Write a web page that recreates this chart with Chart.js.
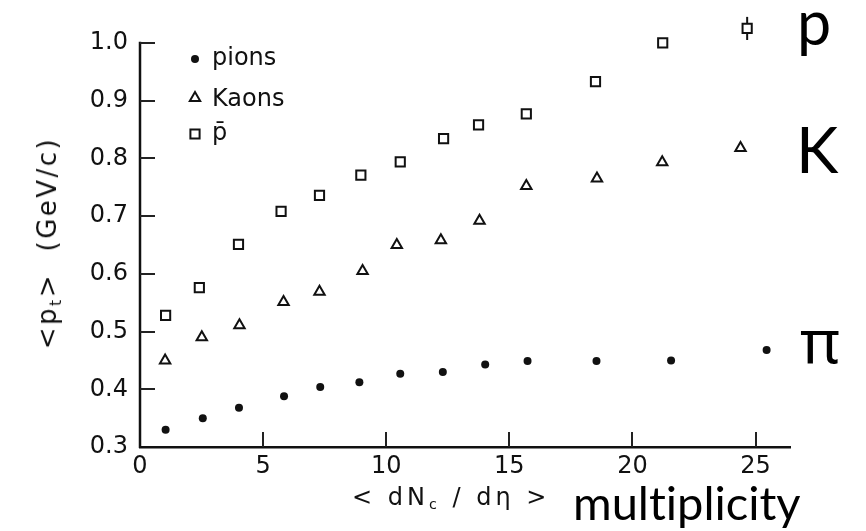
<!DOCTYPE html>
<html>
<head>
<meta charset="utf-8">
<script src="https://cdn.jsdelivr.net/npm/chart.js@4.4.1/dist/chart.umd.min.js"></script>
<style>
  html, body { margin:0; padding:0; background:#fff; }
  #wrap { position:relative; width:866px; height:531px; overflow:hidden; background:#fff; }
  #chart { position:absolute; left:0; top:0; }
  .lbl { position:absolute; white-space:nowrap; line-height:1; font-variant-ligatures:none; font-feature-settings:"liga" 0; }
  .scan { font-family:"DejaVu Sans", sans-serif; color:#111; }
  .plain { font-family:Lato, "Noto Sans", sans-serif; color:#000; }
  sub { font-size:60%; vertical-align:-0.3em; line-height:0; }
</style>
</head>
<body>
<div id="wrap">
  <canvas id="chart" width="866" height="531"></canvas>
  <div class="lbl scan" style="left:352px; top:485px; font-size:24px; letter-spacing:4px;">&lt; dN<sub>c</sub> / dη &gt;</div>
  <div class="lbl plain" style="left:573px; top:479px; font-size:47px;">multiplicity</div>
  <div style="position:absolute; left:47px; top:243px; width:0; height:0;">
    <div class="lbl scan" style="left:0; top:0; font-size:26px; letter-spacing:2.5px; transform:translate(-50%,-50%) rotate(-90deg);">&lt;p<sub>t</sub>&gt;&nbsp;&nbsp;(GeV/c)</div>
  </div>
  <div class="lbl plain" style="left:797px; top:-9px; font-size:61px;">p</div>
  <div class="lbl plain" style="left:796px; top:117px; font-size:64px;">K</div>
  <div class="lbl" style="left:800px; top:309px; font-size:61px; font-family:'Noto Sans', sans-serif; color:#000;">π</div>
</div>
<script>
// Mean transverse momentum vs charged multiplicity
const multPions = [1.04, 2.55, 4.02, 5.85, 7.32, 8.91, 10.57, 12.30, 14.02, 15.74, 18.54, 21.57, 25.45];
const ptPions   = [0.330, 0.350, 0.368, 0.388, 0.404, 0.412, 0.427, 0.430, 0.443, 0.449, 0.449, 0.450, 0.468];

const multKaons = [1.02, 2.51, 4.04, 5.83, 7.29, 9.04, 10.43, 12.22, 13.79, 15.69, 18.56, 21.21, 24.39];
const ptKaons   = [0.450, 0.490, 0.511, 0.551, 0.569, 0.605, 0.650, 0.658, 0.692, 0.752, 0.765, 0.793, 0.818];

const multPbar  = [1.04, 2.41, 4.00, 5.73, 7.29, 8.97, 10.57, 12.33, 13.75, 15.69, 18.50, 21.23, 24.66];
const ptPbar    = [0.528, 0.576, 0.651, 0.708, 0.736, 0.771, 0.794, 0.834, 0.858, 0.877, 0.933, 1.000, 1.025];
const errPbar   = [0, 0, 0, 0, 0, 0, 0, 0, 0, 0, 0, 0, 0.02];

const seriesNames = ['pions', 'Kaons', 'p\u0304'];
const xTicks = [0, 5, 10, 15, 20, 25];
const yTicks = [0.3, 0.4, 0.5, 0.6, 0.7, 0.8, 0.9, 1.0];

const ink = '#111';
const scanFont = { family: 'DejaVu Sans', size: 24 };

function points(xs, ys) { return xs.map((x, i) => ({ x: x, y: ys[i] })); }

// vertical error bars on the antiproton points
const errorBars = {
  id: 'errorBars',
  beforeDatasetsDraw(chart) {
    const xs = chart.scales.x, ys = chart.scales.y, ctx = chart.ctx;
    ctx.save();
    ctx.strokeStyle = ink;
    ctx.lineWidth = 2;
    errPbar.forEach((e, i) => {
      if (!e) return;
      const x = xs.getPixelForValue(multPbar[i]);
      ctx.beginPath();
      ctx.moveTo(x, ys.getPixelForValue(ptPbar[i] - e));
      ctx.lineTo(x, ys.getPixelForValue(ptPbar[i] + e));
      ctx.stroke();
    });
    ctx.restore();
  }
};

// y axis line up to the last labelled tick, plus tick marks pointing into the plot
const innerTicks = {
  id: 'innerTicks',
  afterDraw(chart) {
    const xs = chart.scales.x, ys = chart.scales.y, ctx = chart.ctx, a = chart.chartArea;
    ctx.save();
    ctx.strokeStyle = ink;
    ctx.lineWidth = 2.5;
    ctx.beginPath();
    ctx.moveTo(a.left, ys.getPixelForValue(yTicks[0]) + 1);
    ctx.lineTo(a.left, ys.getPixelForValue(yTicks[yTicks.length - 1]) - 1);
    ctx.stroke();

    ctx.strokeStyle = '#222';
    ctx.lineWidth = 2;
    ctx.beginPath();
    ys.ticks.forEach(t => {
      if (t.value === yTicks[0]) return;
      const y = Math.round(ys.getPixelForValue(t.value));
      ctx.moveTo(a.left, y);
      ctx.lineTo(a.left + 15, y);
    });
    xs.ticks.forEach(t => {
      if (t.value === xs.min) return;
      const x = Math.round(xs.getPixelForValue(t.value));
      ctx.moveTo(x, a.bottom);
      ctx.lineTo(x, a.bottom - 15);
    });
    ctx.stroke();
    ctx.restore();
  }
};

// key in the upper left of the plot
const keyBox = {
  id: 'keyBox',
  afterDraw(chart) {
    const ctx = chart.ctx, a = chart.chartArea;
    const mx = a.left + 55, tx = a.left + 72;
    const rowMid = [59, 98, 134];
    const rowBase = [65, 106, 140];
    ctx.save();
    chart.data.datasets.forEach((ds, i) => {
      ctx.fillStyle = ds.backgroundColor;
      ctx.strokeStyle = ds.borderColor;
      ctx.lineWidth = ds.borderWidth;
      const opts = { pointStyle: ds.pointStyle, radius: ds.pointRadius, borderWidth: ds.borderWidth, rotation: 0 };
      if (Chart.helpers && Chart.helpers.drawPoint) {
        Chart.helpers.drawPoint(ctx, opts, mx, rowMid[i]);
      }
      ctx.fillStyle = '#111';
      ctx.font = '24px "DejaVu Sans"';
      ctx.textBaseline = 'alphabetic';
      ctx.textAlign = 'left';
      ctx.fillText(ds.label, tx, rowBase[i]);
    });
    ctx.restore();
  }
};

new Chart(document.getElementById('chart'), {
  type: 'scatter',
  data: {
    datasets: [
      { label: seriesNames[0], data: points(multPions, ptPions), pointStyle: 'circle', pointRadius: 4,
        backgroundColor: ink, borderColor: ink, borderWidth: 0, clip: false },
      { label: seriesNames[1], data: points(multKaons, ptKaons), pointStyle: 'triangle', pointRadius: 6,
        backgroundColor: '#fff', borderColor: ink, borderWidth: 2, clip: false },
      { label: seriesNames[2], data: points(multPbar, ptPbar), pointStyle: 'rect', pointRadius: 6.5,
        backgroundColor: '#fff', borderColor: ink, borderWidth: 2, clip: false }
    ]
  },
  options: {
    responsive: false,
    animation: false,
    devicePixelRatio: 1,
    layout: { padding: { top: 14, right: 76, left: 0, bottom: 0 } },
    plugins: { legend: { display: false }, tooltip: { enabled: false } },
    elements: { point: { hoverRadius: 4 } },
    scales: {
      x: {
        type: 'linear', min: 0, max: 26.4,
        afterBuildTicks: s => { s.ticks = xTicks.map(v => ({ value: v })); },
        afterFit: s => { s.height = 84; s.paddingLeft = 0; s.paddingRight = 0; },
        grid: { display: false, drawTicks: false },
        border: { display: true, color: ink, width: 2.5 },
        ticks: { font: scanFont, color: '#111', padding: 5, maxRotation: 0, callback: v => String(v) }
      },
      y: {
        type: 'linear', min: 0.3, max: 1.05,
        afterBuildTicks: s => { s.ticks = yTicks.map(v => ({ value: v })); },
        afterFit: s => { s.width = 140; s.paddingTop = 0; s.paddingBottom = 0; },
        grid: { display: false, drawTicks: false },
        border: { display: false },
        ticks: { font: scanFont, color: '#111', padding: 12, callback: v => Number(v).toFixed(1) }
      }
    }
  },
  plugins: [errorBars, innerTicks, keyBox]
});
</script>
</body>
</html>
